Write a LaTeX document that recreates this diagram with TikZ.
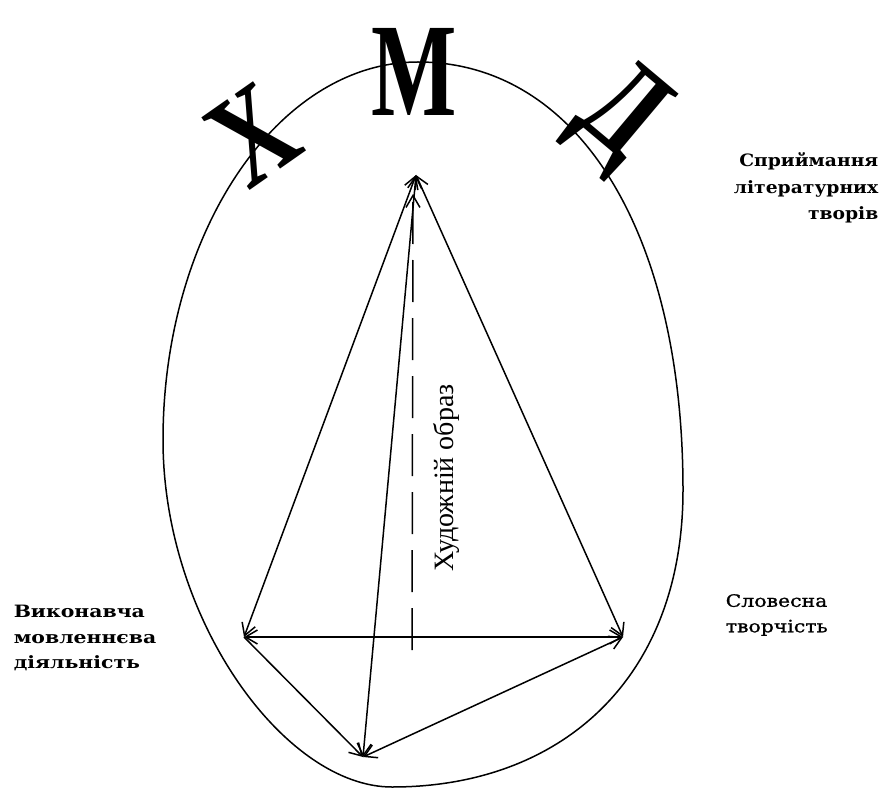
\documentclass[tikz,border=0pt]{standalone}
\usepackage{fontspec}
\usepackage{graphicx}
\setmainfont{Liberation Serif}
\newfontfamily\lblfont[FakeStretch=1.2]{DejaVu Serif}
\newfontfamily\verbfont[FakeStretch=1.2,FakeBold=1.2]{DejaVu Serif}
\newfontfamily\toplblfont[FakeStretch=1.1]{DejaVu Serif}
\usetikzlibrary{arrows.meta,positioning}

\begin{document}
\begin{tikzpicture}[x=1pt,y=-1pt,>={Straight Barb[length=12pt,width=14pt]},line width=1.5pt]
\tikzstyle{lbl}=[font=\lblfont\fontsize{17}{25.5}\selectfont,inner sep=0pt]
\tikzstyle{big}=[font=\bfseries\fontsize{133}{133}\selectfont,inner sep=0pt]
\useasboundingbox (0,0) rectangle (883,794);
% oval
\coordinate (otop) at (418,62);
\coordinate (oright) at (683,490);
\coordinate (obot) at (392,787);
\coordinate (oleft) at (163,440);
\draw (otop) .. controls (578,62) and (683,232) .. (oright)
  .. controls (683,680) and (560,787) .. (obot)
  .. controls (285,787) and (163,620) .. (oleft)
  .. controls (163,232) and (278,62) .. (otop);
% letters on the oval
\node[big] (kh) at (253,135) {\rotatebox{35}{\scalebox{0.75}[1]{Х}}};
\node[big] (em) at (414,72) {\scalebox{0.68}[1]{М}};
\node[big] (de) at (618,118) {\rotatebox{-40}{\scalebox{0.75}[1]{Д}}};
% vertices
\coordinate (top) at (416,175);
\coordinate (left) at (244,637);
\coordinate (right) at (623,637);
\coordinate (bot) at (363,757);
\coordinate (mid) at (412,650);
\coordinate (midtop) at (413,194);
\draw[<->] (left) -- (top);
\draw[<->] (right) -- (top);
\draw[<->] (bot) -- (top);
\draw[<->] (left) -- (right);
\draw[->] (left) -- (bot);
\draw[<->] (right) -- (bot);
\draw[->,dash pattern=on 42pt off 16pt] (mid) -- (midtop);
% labels
\node[lbl,font=\toplblfont\bfseries\fontsize{17}{26.5}\selectfont,align=right,anchor=east] (perc) at (879,188) {Сприймання\\літературних\\творів};
\node[lbl,font=\lblfont\bfseries\fontsize{17}{25.5}\selectfont,align=left,anchor=west] (perf) at (13,638) {Виконавча\\мовленнєва\\діяльність};
\node[lbl,font=\verbfont\fontsize{17}{25.5}\selectfont,align=left,anchor=west] (verb) at (725,615) {Словесна\\творчість};
\node[font=\fontsize{28}{28}\selectfont,rotate=90] (img) at (446,478) {Художній образ};
\end{tikzpicture}
\end{document}
